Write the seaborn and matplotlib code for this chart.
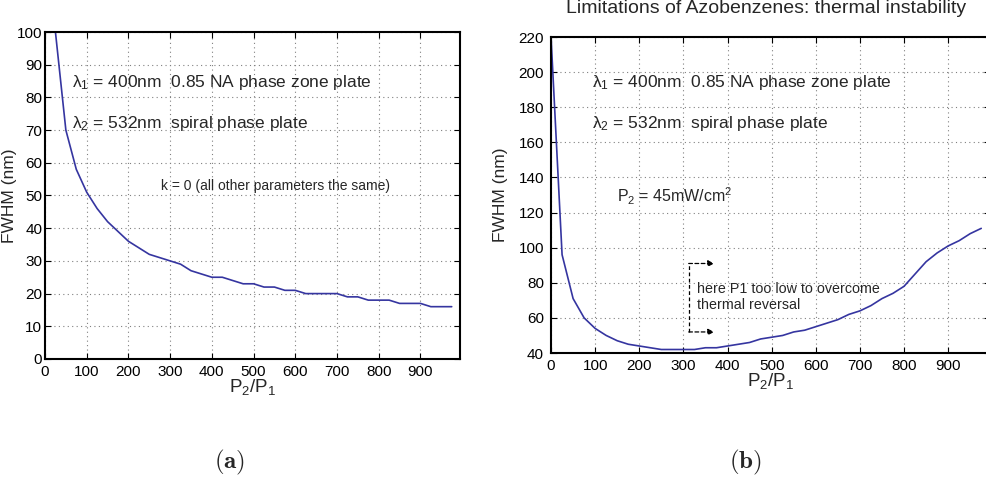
import matplotlib
matplotlib.use("Agg")
import matplotlib.pyplot as plt
import seaborn as sns
import numpy as np

# ---- data ----
x_a = [25, 50, 75, 100, 125, 150, 175, 200, 225, 250, 275, 300, 325, 350, 375, 400,
       425, 450, 475, 500, 525, 550, 575, 600, 625, 650, 675, 700, 725, 750, 775,
       800, 825, 850, 875, 900, 925, 950, 975]
fwhm_a = [100, 70, 58, 51, 46, 42, 39, 36, 34, 32, 31, 30, 29, 27, 26, 25,
          25, 24, 23, 23, 22, 22, 21, 21, 20, 20, 20, 20, 19, 19, 18,
          18, 18, 17, 17, 17, 16, 16, 16]

x_b = [0, 25, 50, 75, 100, 125, 150, 175, 200, 225, 250, 275, 300, 325, 350, 375,
       400, 425, 450, 475, 500, 525, 550, 575, 600, 625, 650, 675, 700, 725, 750,
       775, 800, 825, 850, 875, 900, 925, 950, 975]
fwhm_b = [220, 96, 71, 60, 54, 50, 47, 45, 44, 43, 42, 42, 42, 42, 43, 43,
          44, 45, 46, 48, 49, 50, 52, 53, 55, 57, 59, 62, 64, 67, 71,
          74, 78, 85, 92, 97, 101, 104, 108, 111]

xticks = [0, 100, 200, 300, 400, 500, 600, 700, 800, 900]
yticks_a = [0, 10, 20, 30, 40, 50, 60, 70, 80, 90, 100]
yticks_b = [40, 60, 80, 100, 120, 140, 160, 180, 200, 220]

title_b = "Limitations of Azobenzenes: thermal instability"
xlabel = r"$\mathregular{P_2/P_1}$"
ylabel = "FWHM (nm)"

sns.set_theme(style="ticks")
plt.rcParams["font.family"] = ["Liberation Sans", "DejaVu Sans"]
plt.rcParams["mathtext.default"] = "regular"
plt.rcParams["mathtext.fontset"] = "custom"
plt.rcParams["mathtext.rm"] = "Liberation Sans"
plt.rcParams["mathtext.it"] = "Liberation Sans"

LINE = "#3535a0"

fig = plt.figure(figsize=(9.87, 4.82), dpi=100)
axA = fig.add_axes([0.0456, 0.2552, 0.4205, 0.6784])
axB = fig.add_axes([0.5583, 0.2676, 0.4448, 0.6556])

def style(ax, yticks, ylim, ylab_x, ypad):
    ax.set_xlim(0, 995)
    ax.set_ylim(*ylim)
    ax.set_xticks(xticks)
    ax.set_yticks(yticks)
    ax.grid(True, linestyle=(0, (1, 3)), color="#808080", linewidth=0.8)
    ax.tick_params(direction="in", top=True, right=True, length=4, width=0.8,
                   labelsize=11, colors="black")
    ax.tick_params(axis="x", pad=4)
    ax.tick_params(axis="y", pad=ypad)
    for s in ax.spines.values():
        s.set_linewidth(1.5)
        s.set_color("black")
    ax.set_xlabel(xlabel, fontsize=13.5, labelpad=-1)
    ax.set_ylabel(ylabel, fontsize=12.5)
    ax.yaxis.set_label_coords(ylab_x, 0.5)
    ax.set_facecolor("white")

sns.lineplot(x=x_a, y=fwhm_a, ax=axA, color=LINE, linewidth=1.2)
style(axA, yticks_a, (0, 100), -0.068, 2)
sns.lineplot(x=x_b, y=fwhm_b, ax=axB, color=LINE, linewidth=1.2)
style(axB, yticks_b, (40, 220), -0.098, 5)

# annotations panel a
axA.text(65, 84.5, r"$\lambda_1$ = 400nm  0.85 NA phase zone plate", fontsize=12.5, va="center")
axA.text(65, 72, r"$\lambda_2$ = 532nm  spiral phase plate", fontsize=12.5, va="center")
axA.text(278, 53, "k = 0 (all other parameters the same)", fontsize=10, va="center")

# annotations panel b
axB.text(93, 194, r"$\lambda_1$ = 400nm  0.85 NA phase zone plate", fontsize=12.5, va="center")
axB.text(93, 171, r"$\lambda_2$ = 532nm  spiral phase plate", fontsize=12.5, va="center")
axB.text(150, 129, r"P$_2$ = 45mW/cm$^2$", fontsize=11.5, va="center")
axB.plot([312, 312], [52, 91], color="black", linestyle=(0, (3, 2)), linewidth=0.9)
for yy in (91, 52):
    axB.annotate("", xy=(370, yy), xytext=(312, yy),
                 arrowprops=dict(arrowstyle="-|>", linestyle=(0, (3, 2)), color="black",
                                 lw=0.9, mutation_scale=9, shrinkA=0, shrinkB=0))
axB.text(330, 76.5, "here P1 too low to overcome", fontsize=10.3, va="center")
axB.text(330, 67.5, "thermal reversal", fontsize=10.3, va="center")

fig.text(0.776, 0.983, title_b, fontsize=14, ha="center", va="center")
fig.text(0.233, 0.04, r"$\mathbf{(a)}$", fontsize=18, math_fontfamily="cm",
         ha="center", va="center")
fig.text(0.755, 0.04, r"$\mathbf{(b)}$", fontsize=18, math_fontfamily="cm",
         ha="center", va="center")

fig.savefig("out.png", dpi=100, facecolor="white")
